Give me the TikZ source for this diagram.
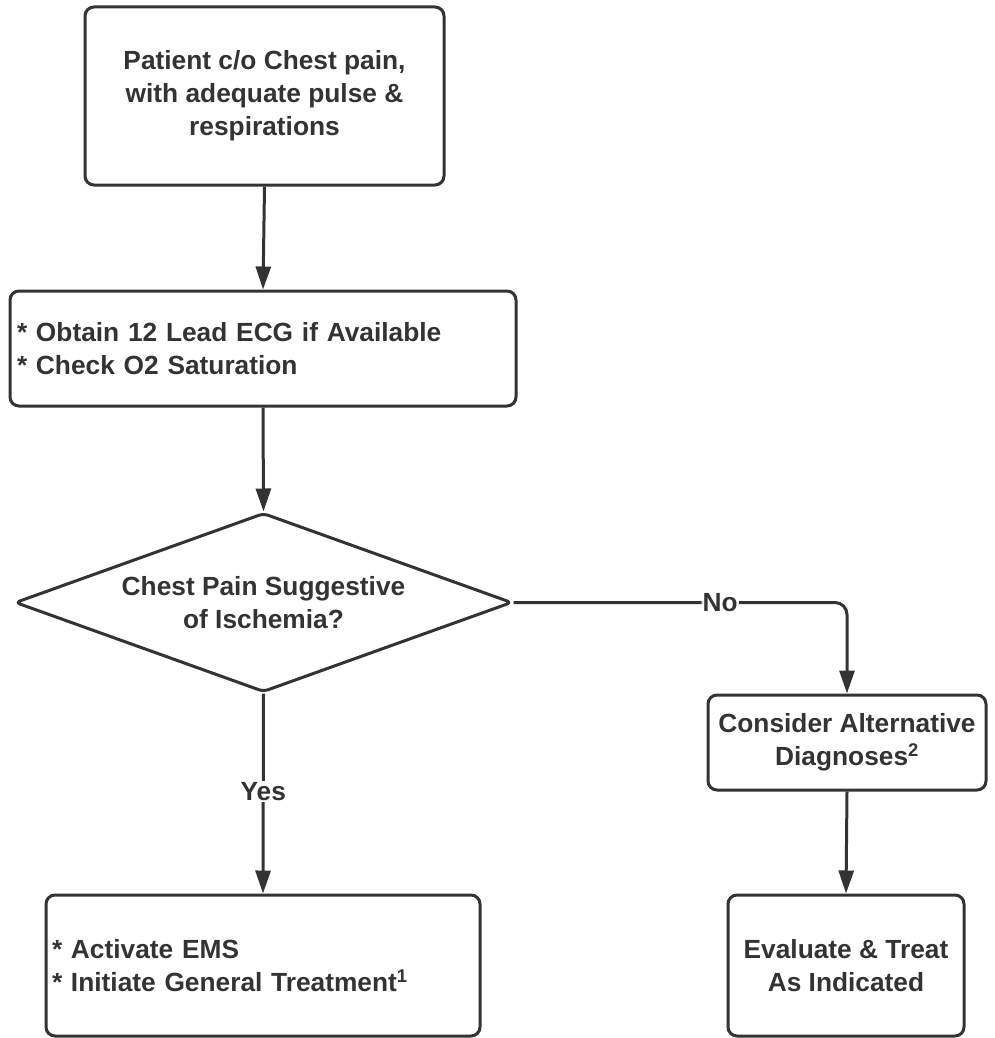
\documentclass[tikz,border=0pt]{standalone}
\usepackage{fontspec}
\setmainfont{Liberation Sans}
\usetikzlibrary{shapes.geometric,arrows.meta}
\definecolor{ink}{HTML}{333333}
\begin{document}
\begin{tikzpicture}[x=1pt,y=-1pt,
  font=\fontsize{26.3}{33}\selectfont\bfseries,
  every node/.style={text=ink},
  box/.style={draw=ink, line width=3pt, rounded corners=9pt, inner sep=0pt},
  dia/.style={draw=ink, line width=3pt, diamond, shape aspect=2.78, inner sep=0pt, rounded corners=5pt},
  conn/.style={draw=ink, line width=3pt, -{Triangle[length=23pt,width=15pt]}},
  lab/.style={fill=white, inner sep=1pt}]
\useasboundingbox (0,0) rectangle (994,1038);
\node[box, minimum width=359pt, minimum height=178pt, align=center] (b1) at (264.5,96)
  {Patient c/o Chest pain,\\with adequate pulse \&\\respirations};
\node[box, minimum width=506pt, minimum height=115pt, text width=492pt, align=left] (b2) at (263,348.5)
  {\raisebox{3pt}{}* Obtain 12 Lead ECG if Available\\[0pt]{}* Check O2 Saturation};
\node[dia, minimum width=497pt, minimum height=179pt, align=center] (d) at (263.5,602.5)
  {Chest Pain Suggestive\\of Ischemia?};
\node[box, minimum width=278pt, minimum height=95pt, align=center] (b3) at (847,742.5)
  {Consider Alternative\\Diagnoses\textsuperscript{2}};
\node[box, minimum width=236pt, minimum height=141pt, align=center] (b4) at (846,965.5)
  {Evaluate \& Treat\\As Indicated};
\node[box, minimum width=434pt, minimum height=141pt, text width=422pt, align=left] (b5) at (263,965.5)
  {* Activate EMS\\[0pt]{}* Initiate General Treatment\textsuperscript{1}};
\draw[conn] (b1.south) -- (b2.north);
\draw[conn] (b2.south) -- (d.north);
\draw[conn, rounded corners=12pt] (d.east) -| node[lab, pos=0.31] (no) {No} (b3.north);
\draw[conn] (b3.south) -- (b4.north);
\draw[conn] (d.south) -- node[lab, pos=0.49] (yes) {Yes} (b5.north);
\end{tikzpicture}
\end{document}
